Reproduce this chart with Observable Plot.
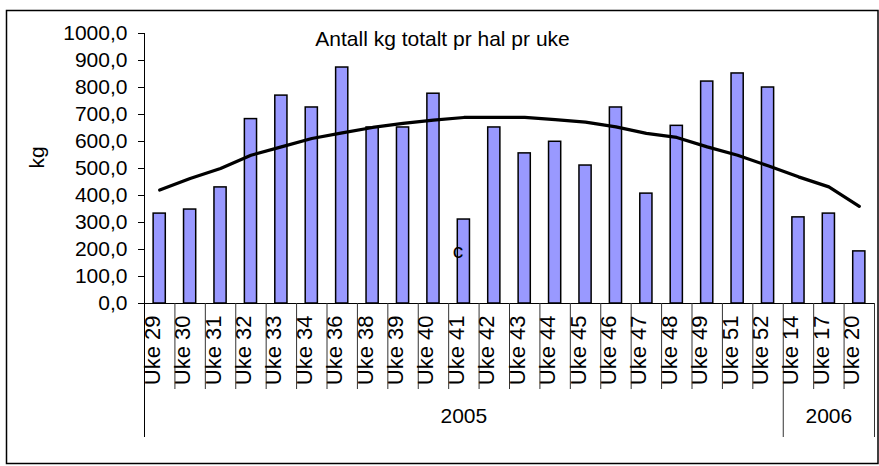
<!DOCTYPE html>
<html>
<head>
<meta charset="utf-8">
<script src="https://cdn.jsdelivr.net/npm/d3@7"></script>
<script src="https://cdn.jsdelivr.net/npm/@observablehq/plot@0.6"></script>
<style>
  html, body { margin: 0; padding: 0; background: white; overflow: hidden; }
</style>
</head>
<body>
<div id="chart"></div>
<script>
const title = "Antall kg totalt pr hal pr uke";
const yLabel = "kg";
const weeks = ["Uke 29","Uke 30","Uke 31","Uke 32","Uke 33","Uke 34","Uke 36","Uke 38","Uke 39","Uke 40",
  "Uke 41","Uke 42","Uke 43","Uke 44","Uke 45","Uke 46","Uke 47","Uke 48","Uke 49","Uke 51","Uke 52",
  "Uke 14","Uke 17","Uke 20"];
const kg = [333, 348, 430, 683, 770, 726, 874, 652, 652, 777,
  311, 652, 556, 599, 511, 726, 407, 658, 822, 852, 800,
  319, 333, 193];
const trend = [420, 463, 500, 549, 580, 611, 632, 652, 667, 679,
  689, 689, 689, 681, 672, 654, 630, 615, 580, 549, 510,
  469, 432, 360];
const yTicks = [0, 100, 200, 300, 400, 500, 600, 700, 800, 900, 1000];
const years = ["2005", "2006"];
const yearStartWeek = ["Uke 29", "Uke 14"];
const yearMidWeek = ["Uke 41", "Uke 17"];
const lastWeek = ["Uke 20"];
const note = ["c"];
const noteWeek = ["Uke 41"];
const noteValue = [195];

const W = 879, H = 466, ML = 144, MR = 5, MT = 33, MB = 163;
const halfStep = (W - ML - MR) / weeks.length / 2;
const data = weeks.map((w, i) => ({week: w, kg: kg[i], trend: trend[i]}));
const fmt = d => d.toFixed(1).replace(".", ",");
const font = "'Liberation Sans', Arial, sans-serif";

const chart = Plot.plot({
  width: W, height: H,
  marginLeft: ML, marginRight: MR, marginTop: MT, marginBottom: MB,
  style: {fontFamily: font, fontSize: "21px", background: "white", color: "black", overflow: "visible"},
  x: {type: "band", domain: weeks, paddingInner: 0.6, paddingOuter: 0.3, round: false, axis: null},
  y: {domain: [0, 1000], axis: null},
  marks: [
    Plot.frame({stroke: "black", strokeWidth: 1.5, insetLeft: -138, insetTop: -23, insetRight: -3.5, insetBottom: -160}),
    Plot.barY(data, {x: "week", y: "kg", fill: "#9999ff", stroke: "black", strokeWidth: 1.5}),
    Plot.line(data, {x: "week", y: "trend", stroke: "black", strokeWidth: 3.2}),
    Plot.axisY(yTicks, {tickSize: 6, tickPadding: 11, tickFormat: fmt, fontSize: 21, label: null, stroke: "black"}),
    Plot.ruleY([0], {stroke: "black", strokeWidth: 1}),
    // left axis line, extended down as year separator
    Plot.ruleX(yearStartWeek.slice(0, 1), {x: d => d, dx: -halfStep, stroke: "black", strokeWidth: 1, insetBottom: -134}),
    // 2005|2006 separator
    Plot.ruleX(yearStartWeek.slice(1), {x: d => d, dx: -halfStep, stroke: "#333", strokeWidth: 1, insetTop: 270, insetBottom: -134}),
    // right end separator
    Plot.ruleX(lastWeek, {x: d => d, dx: halfStep, stroke: "#333", strokeWidth: 1, insetTop: 270, insetBottom: -134}),
    // category separators
    Plot.ruleX(weeks.filter(w => !yearStartWeek.includes(w)), {x: d => d, dx: -halfStep, stroke: "#333", strokeWidth: 1, insetTop: 270, insetBottom: -86}),
    Plot.text(weeks, {x: d => d, frameAnchor: "bottom", rotate: -90, textAnchor: "end", dy: 12, fontSize: 22}),
    Plot.text(years, {x: yearMidWeek, frameAnchor: "bottom", dy: 119, fontSize: 21}),
    Plot.text([yLabel], {frameAnchor: "left", rotate: -90, dx: -107, fontSize: 21}),
    Plot.text([title], {frameAnchor: "top", dx: -67, dy: -2, fontSize: 21}),
    Plot.text(note, {x: noteWeek, y: noteValue, dx: -6, fontSize: 21})
  ]
});
document.getElementById("chart").appendChild(chart);
</script>
</body>
</html>
